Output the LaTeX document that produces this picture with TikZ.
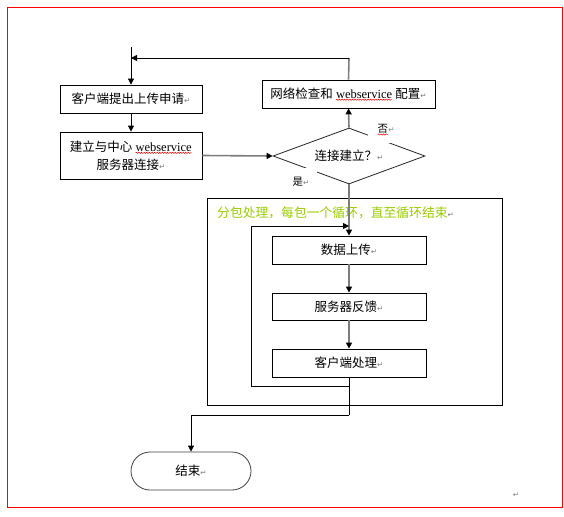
\documentclass[tikz,border=0pt]{standalone}
\usepackage{fontspec}
\setmainfont{Noto Sans CJK SC}
\newfontfamily\lat{Liberation Serif}
\newfontfamily\dv{DejaVu Sans}
\usetikzlibrary{arrows.meta,shapes.geometric,decorations.pathmorphing}
\definecolor{lime}{RGB}{153,204,0}
\definecolor{pmg}{RGB}{128,128,128}
\definecolor{lng}{RGB}{125,125,125}
\newcommand\pmk{{\dv\fontsize{7.5}{8}\selectfont\textcolor{pmg}{↵}}}
\newcommand\sqg[1]{\tikz[baseline=(sqw.base)]{\node[draw=none,fill=none,shape=rectangle,inner sep=0pt,outer sep=0pt,minimum width=0pt,minimum height=0pt,anchor=base] (sqw) {#1};\draw[red,line width=0.5pt,decorate,decoration={snake,amplitude=0.6pt,segment length=2.6pt}] ([yshift=-1.6pt]sqw.base west) -- ([yshift=-1.6pt]sqw.base east);}}
\tikzset{
  box/.style={draw, line width=0.8pt, inner sep=0pt, font=\fontsize{12.5}{18}\selectfont},
  blk/.style={line width=0.8pt, -{Triangle[length=6pt,width=6pt]}},
  gry/.style={draw=lng, line width=1.6pt, -{Triangle[length=6pt,width=6pt,color=black]}},
  gryl/.style={draw=lng, line width=1.6pt},
  lbl/.style={fill=white, inner sep=0pt, font=\fontsize{10.5}{12}\selectfont},
}
\begin{document}
\begin{tikzpicture}[x=1pt,y=-1pt]
\useasboundingbox (0,0) rectangle (564,516);
\draw[red, line width=0.9pt] (7,7) rectangle (562,507);

% top part
\node[box, minimum width=142, minimum height=28] (b1) at (131,99) {客户端提出上传申请\pmk};
\node[box, minimum width=142, minimum height=47, align=center] (b2) at (131,155.5) {建立与中心 \sqg{\lat webservice}\\服务器连接\pmk};
\node[box, minimum width=173, minimum height=28] (b3) at (348.5,94) {网络检查和 \sqg{\lat webservice} 配置\pmk};
\node[diamond, draw=black!85, line width=0.8pt, inner sep=0pt, shape aspect=2.7, minimum width=152, minimum height=56, font=\fontsize{12.5}{15}\selectfont] (d) at (349,156) {连接建立？\pmk};
\node[lbl, minimum width=30, minimum height=26] (no) at (383,130) {\hspace*{6pt}\sqg{否}\pmk};
\node[lbl, minimum width=32, minimum height=27] (yes) at (301,181.5) {是\pmk};

\coordinate (start) at (131,47);
\coordinate (tr) at (349,58);
\coordinate (tl) at (131,58);
\draw[blk] (start) -- (b1.north);
\draw[blk] (b1) -- (b2);
\draw[gry] (b2.east) -- (d.west);
\draw[gry] (d.north) -- (b3.south);
\draw[gryl] (b3.north) -- (tr);
\draw[blk] (tr) -- (tl);

% loop group
\node[draw, line width=0.8pt, minimum width=295, minimum height=207, inner sep=0pt] (grp) at (354.5,301.5) {};
\node[anchor=west, inner sep=0pt, text=lime, font=\fontsize{12.8}{15}\selectfont] (gt) at (217,213) {分包处理，每包一个循环，直至循环结束\pmk};
\node[box, minimum width=154, minimum height=28] (i1) at (349,250) {数据上传\pmk};
\node[box, minimum width=154, minimum height=27] (i2) at (349,306.5) {服务器反馈\pmk};
\node[box, minimum width=154, minimum height=28] (i3) at (349,363) {客户端处理\pmk};
\draw[gry] (d.south) -- (i1.north);
\draw[gry] (i1) -- (i2);
\draw[gry] (i2) -- (i3);

\coordinate (lb) at (349,386);
\coordinate (lbl) at (251,386);
\coordinate (ltl) at (251,226);
\coordinate (ltr) at (349,226);
\coordinate (ex1) at (349,415);
\coordinate (ex2) at (191,415);
\draw[blk] (lb) -- (lbl) -- (ltl) -- (ltr);
\draw[line width=0.8pt] (i3.south) -- (ex1);

% end
\node[draw=black!75, line width=0.8pt, rounded corners=19pt, minimum width=120, minimum height=38, inner sep=0pt, font=\fontsize{12.5}{15}\selectfont] (end) at (191,471) {结束\pmk};
\draw[blk] (ex1) -- (ex2) -- (end.north);

\node[inner sep=0pt] (pm) at (516,495) {\pmk};
\end{tikzpicture}
\end{document}
